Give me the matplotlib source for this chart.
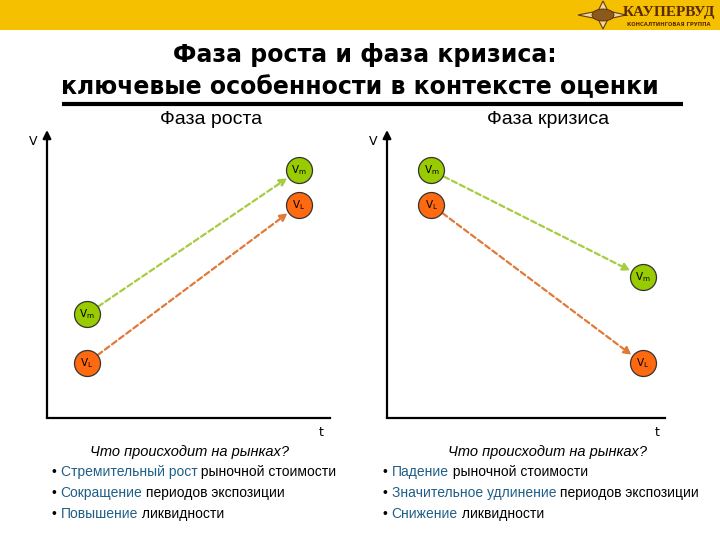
import matplotlib.pyplot as plt
from matplotlib.patches import Rectangle, Polygon, Ellipse

plt.rcParams['mathtext.default'] = 'regular'

# chart content
title_lines = ['Фаза роста и фаза кризиса:', 'ключевые особенности в контексте оценки']
phases = ['Фаза роста', 'Фаза кризиса']
question = 'Что происходит на рынках?'

t_growth = [0.14, 0.89]
vm_growth = [0.36, 0.86]
vl_growth = [0.19, 0.74]

t_crisis = [0.16, 0.92]
vm_crisis = [0.86, 0.49]
vl_crisis = [0.74, 0.19]

growth_bullets = [('Стремительный рост', ' рыночной стоимости'),
                  ('Сокращение', ' периодов экспозиции'),
                  ('Повышение', ' ликвидности')]
crisis_bullets = [('Падение', ' рыночной стоимости'),
                  ('Значительное удлинение', ' периодов экспозиции'),
                  ('Снижение', ' ликвидности')]

green = '#99CC00'
orange = '#FF6A10'
green_arrow = '#A6CC40'
orange_arrow = '#E07A3A'
blue = '#1E5E86'
band = '#F5C000'

fig = plt.figure(figsize=(7.2, 5.4), dpi=100)

# background layer in pixel units
bg = fig.add_axes([0, 0, 1, 1])
bg.set_xlim(0, 720)
bg.set_ylim(540, 0)
bg.axis('off')

bg.add_patch(Rectangle((0, 0), 720, 30, color=band, lw=0))
# logo
star = [(578, 15), (598, 11), (603, 1), (608, 11), (626, 15), (608, 19), (603, 29), (598, 19)]
bg.add_patch(Polygon(star, closed=True, fc='#E8D9A0', ec='#6B3A0A', lw=0.8))
bg.add_patch(Ellipse((603, 15), 22, 12, fc='#8B5A1A', ec='#5A2A00', lw=0.6))
bg.text(669, 12.5, 'КАУПЕРВУД', ha='center', va='center', fontsize=11,
        fontweight='bold', family='Liberation Serif', color='#5A2A00')
bg.text(669, 25, 'КОНСАЛТИНГОВАЯ ГРУППА', ha='center', va='center',
        fontsize=3.8, fontweight='bold', color='#5A2A00')

bg.text(365, 55, title_lines[0], ha='center', va='center', fontsize=17,
        fontweight='bold', color='black')
bg.text(360, 87, title_lines[1], ha='center', va='center', fontsize=17,
        fontweight='bold', color='black')
bg.plot([62, 683], [104, 104], color='black', lw=3, solid_capstyle='butt')


def draw_panel(rect, phase, t, vm, vl):
    ax = fig.add_axes(rect)
    ax.set_xlim(0, 1)
    ax.set_ylim(0, 1)
    ax.axis('off')
    ax.annotate('', xy=(0, 1.0), xytext=(0, 0), xycoords='axes fraction',
                arrowprops=dict(arrowstyle='-|>', color='black', lw=1.6,
                                mutation_scale=12, shrinkA=0, shrinkB=0))
    ax.plot([0, 1], [0, 0], color='black', lw=1.6, transform=ax.transAxes, clip_on=False)
    ax.text(-0.05, 0.96, 'V', transform=ax.transAxes, ha='center', va='center',
            fontsize=9, color='black')
    ax.text(0.97, -0.05, 't', transform=ax.transAxes, ha='center', va='center',
            fontsize=9, color='black')
    ax.text(0.58, 1.035, phase, transform=ax.transAxes, ha='center', va='center',
            fontsize=14, family='Liberation Sans', color='black')
    for vals, fc, ac, sub in [(vm, green, green_arrow, 'm'), (vl, orange, orange_arrow, 'L')]:
        ax.annotate('', xy=(t[1], vals[1]), xytext=(t[0], vals[0]),
                    arrowprops=dict(arrowstyle='-|>', color=ac, lw=1.6,
                                    linestyle=(0, (2.5, 1.5)), mutation_scale=11,
                                    shrinkA=10, shrinkB=10), zorder=2)
        ax.scatter(t, vals, s=350, c=fc, edgecolors='#333333', linewidths=0.9,
                   zorder=3, clip_on=False)
        for x, y in zip(t, vals):
            ax.text(x, y, '$V_' + sub + '$', ha='center', va='center', fontsize=7.5,
                    color='black', zorder=4)
    return ax


draw_panel([47 / 720, 122 / 540, 283 / 720, 288 / 540], phases[0], t_growth, vm_growth, vl_growth)
draw_panel([387 / 720, 122 / 540, 278 / 720, 288 / 540], phases[1], t_crisis, vm_crisis, vl_crisis)


def draw_bullets(xq, xb, items):
    bg.text(xq, 452, question, ha='center', va='center', fontsize=10.5,
            style='italic', family='Liberation Sans', color='black')
    for i, (hl, rest) in enumerate(items):
        y = 472 + i * 21
        t0 = bg.text(xb, y, '• ', ha='left', va='center', fontsize=10,
                     family='Liberation Sans', color='black')
        t1 = bg.annotate(hl, xy=(1, 0.5), xycoords=t0, ha='left', va='center',
                         fontsize=10, family='Liberation Sans', color=blue)
        bg.annotate(rest, xy=(1, 0.5), xycoords=t1, ha='left', va='center',
                    fontsize=10, family='Liberation Sans', color='black')


draw_bullets(190, 52, growth_bullets)
draw_bullets(548, 383, crisis_bullets)

fig.savefig('out.png', dpi=100, facecolor='white')
